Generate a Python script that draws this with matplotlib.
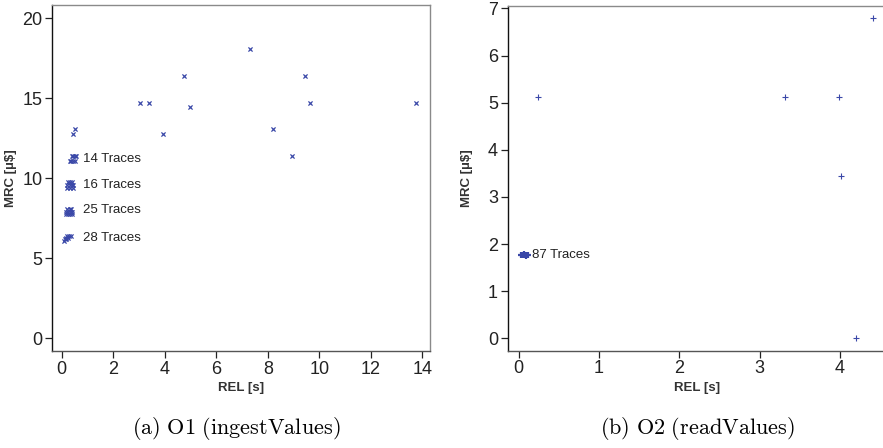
import matplotlib
matplotlib.use("Agg")
import matplotlib.pyplot as plt

# ---- data: panel (a) O1 (ingestValues) ----
a_x = [0.45, 0.50, 3.04, 3.39, 3.92, 4.76, 4.99, 7.32, 8.22, 8.95, 9.43, 9.63, 13.75]
a_y = [12.77, 13.06, 14.73, 14.73, 12.77, 16.39, 14.44, 18.06, 13.06, 11.39, 16.39, 14.73, 14.73]

# clusters (representative points)
c14_x = [0.40, 0.45, 0.50, 0.55, 0.30, 0.36, 0.45, 0.52]
c14_y = [11.38, 11.38, 11.38, 11.38, 11.10, 11.10, 11.10, 11.10]
c16_x = [0.25, 0.32, 0.40, 0.20, 0.30, 0.40, 0.45, 0.22, 0.32, 0.42]
c16_y = [9.75, 9.75, 9.75, 9.60, 9.60, 9.60, 9.60, 9.42, 9.42, 9.42]
c25_x = [0.22, 0.30, 0.36, 0.18, 0.26, 0.34, 0.40, 0.16, 0.24, 0.32, 0.38]
c25_y = [8.08, 8.08, 8.08, 7.92, 7.92, 7.92, 7.92, 7.76, 7.76, 7.76, 7.76]
c28_x = [0.20, 0.27, 0.34, 0.18, 0.24, 0.12, 0.18, 0.10]
c28_y = [6.42, 6.42, 6.42, 6.30, 6.30, 6.18, 6.18, 6.10]

a_labels = ["14 Traces", "16 Traces", "25 Traces", "28 Traces"]
a_label_y = [11.19, 9.58, 8.02, 6.25]

# ---- data: panel (b) O2 (readValues) ----
b_x = [0.24, 3.32, 3.99, 4.01, 4.20, 4.41]
b_y = [5.11, 5.11, 5.11, 3.44, 0.0, 6.79]
c87_x = [0.03, 0.05, 0.07, 0.09, 0.11, 0.06, 0.09]
c87_y = [1.77, 1.77, 1.77, 1.77, 1.77, 1.80, 1.74]
b_labels = ["87 Traces"]
b_label_y = [1.77]

a_xticks = [0, 2, 4, 6, 8, 10, 12, 14]
a_yticks = [0, 5, 10, 15, 20]
b_xticks = [0, 1, 2, 3, 4]
b_yticks = [0, 1, 2, 3, 4, 5, 6, 7]

plt.rcParams['font.family'] = ['Liberation Sans', 'DejaVu Sans']
plt.rcParams['mathtext.fontset'] = 'cm'

W, H = 883, 448
fig = plt.figure(figsize=(W / 100, H / 100), dpi=100)

blue = '#3a48a8'

def style(ax):
    for s in ['top', 'right']:
        ax.spines[s].set_color('#8a8a8a')
    ax.spines['left'].set_color('#111111')
    ax.spines['bottom'].set_color('#555555')
    for s in ax.spines.values():
        s.set_linewidth(1.0)
    ax.tick_params(direction='out', length=5, width=0.9, color='#222222',
                   labelsize=13, labelcolor='#222222', pad=2)
    ax.tick_params(top=False, right=False)
    ax.yaxis.set_label_coords(-0.108, 0.5)
    ax.xaxis.set_label_coords(0.5, -0.107)

# panel (a)
axa = fig.add_axes([52 / W, 1 - 351 / H, (430 - 52) / W, (351 - 5) / H])
axa.scatter(a_x, a_y, marker='x', s=9, c=blue, linewidths=0.9)
for cx, cy in [(c14_x, c14_y), (c16_x, c16_y), (c25_x, c25_y), (c28_x, c28_y)]:
    axa.scatter(cx, cy, marker='x', s=9, c=blue, linewidths=0.9)
for lab, ly in zip(a_labels, a_label_y):
    axa.text(0.84, ly, lab, fontsize=9.5, va='center', ha='left', color='#222222')
axa.set_xlim(-0.38, 14.3)
axa.set_ylim(-0.79, 20.83)
axa.set_xticks(a_xticks)
axa.set_yticks(a_yticks)
axa.set_xlabel('REL [s]', fontsize=9.5, fontweight='bold', color='#333333', va='center')
axa.set_ylabel('MRC [µ$]', fontsize=9.5, fontweight='bold', color='#333333', va='center')
style(axa)

# panel (b)
axb = fig.add_axes([507.7 / W, 1 - 350.7 / H, (887 - 507.7) / W, (350.7 - 6) / H])
axb.scatter(b_x, b_y, marker='+', s=16, c=blue, linewidths=0.8)
axb.scatter(c87_x, c87_y, marker='+', s=16, c=blue, linewidths=1.6)
for lab, ly in zip(b_labels, b_label_y):
    axb.text(0.17, ly, lab, fontsize=9.5, va='center', ha='left', color='#222222')
axb.set_xlim(-0.137, (887 - 518.7) / 80.3)
axb.set_ylim(-0.26, 7.05)
axb.set_xticks(b_xticks)
axb.set_yticks(b_yticks)
axb.set_xlabel('REL [s]', fontsize=9.5, fontweight='bold', color='#333333', va='center')
axb.set_ylabel('MRC [µ$]', fontsize=9.5, fontweight='bold', color='#333333', va='center')
style(axb)

# captions
fig.text(236 / W, 1 - 428 / H, r'$\mathrm{(a)\ O1\ (ingestValues)}$', fontsize=16,
         ha='center', va='center')
fig.text(697 / W, 1 - 428 / H, r'$\mathrm{(b)\ O2\ (readValues)}$', fontsize=16,
         ha='center', va='center')

fig.savefig('out.png', dpi=100)
